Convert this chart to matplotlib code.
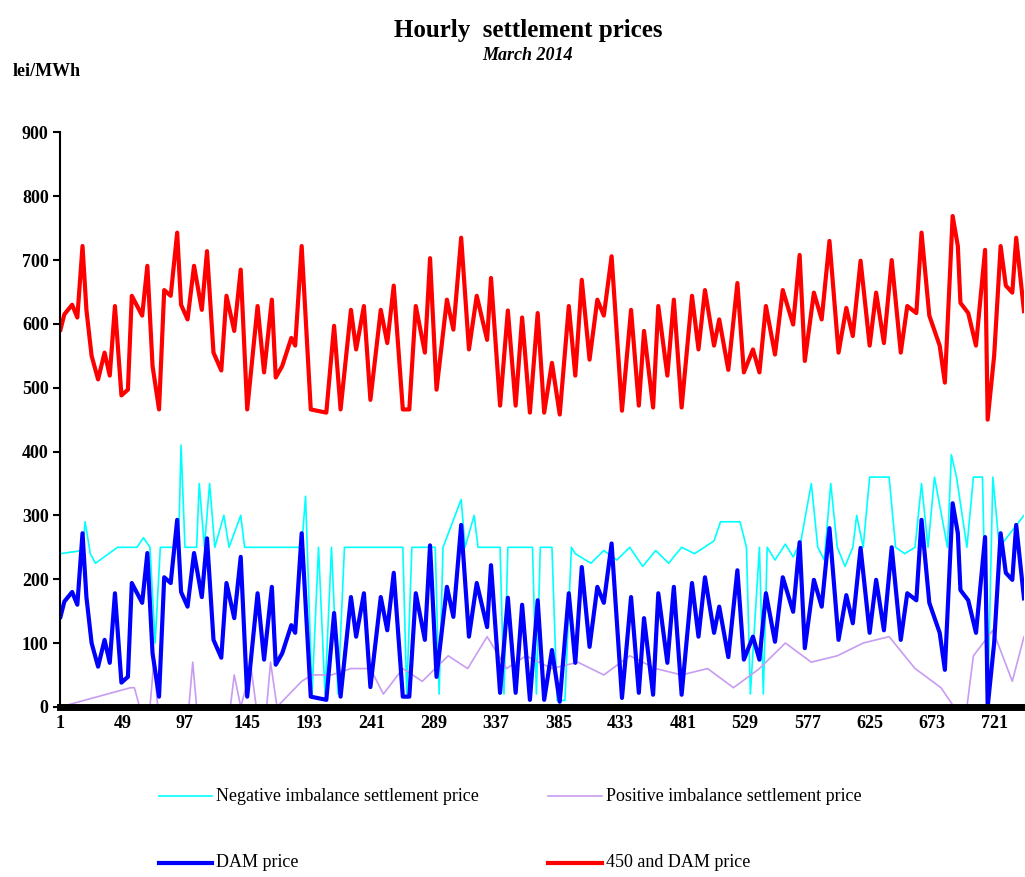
import matplotlib.pyplot as plt
from matplotlib.lines import Line2D

plt.rcParams['font.family'] = ['Liberation Serif', 'DejaVu Serif']

# DAM price (lei/MWh), read at irregular hours
dam_hours = [1, 4, 10, 14, 18, 21, 25, 30, 35, 39, 43, 48, 53, 56, 64, 68, 72, 77, 81, 86,
             91, 94, 99, 104, 110, 114, 119, 125, 129, 135, 140, 145, 153, 158, 164, 167, 172, 179, 182, 187,
             194, 206, 212, 217, 225, 229, 235, 240, 248, 253, 258, 265, 270, 275, 282, 286, 291, 299, 304, 310,
             316, 322, 330, 333, 340, 346, 352, 357, 363, 369, 374, 380, 386, 393, 398, 403, 409, 415, 420, 426,
             434, 441, 447, 451, 458, 462, 469, 474, 480, 488, 493, 498, 505, 509, 516, 523, 528, 535, 540, 545,
             552, 558, 566, 571, 575, 582, 588, 594, 601, 607, 612, 618, 625, 630, 636, 642, 649, 654, 661, 665,
             671, 679, 683, 689, 693, 695, 701, 707, 714, 716, 721, 726, 730, 735, 738, 744]
dam_values = [141, 165, 180, 160, 272, 172, 100, 63, 105, 69, 178, 38, 47, 194, 163, 241, 84, 16, 203, 194,
              293, 180, 157, 241, 172, 264, 105, 77, 194, 139, 235, 16, 178, 74, 188, 66, 84, 128, 116, 272,
              16, 11, 147, 16, 172, 110, 178, 31, 172, 120, 210, 16, 16, 178, 105, 253, 47, 188, 141, 285,
              110, 194, 125, 222, 22, 171, 22, 160, 11, 167, 11, 89, 8, 178, 69, 219, 94, 188, 163, 256,
              14, 172, 22, 139, 19, 178, 69, 188, 19, 194, 110, 203, 116, 157, 78, 214, 74, 110, 74, 178,
              102, 203, 149, 258, 92, 199, 157, 280, 105, 175, 131, 249, 116, 199, 120, 250, 105, 178, 167, 293,
              163, 116, 58, 319, 272, 183, 167, 116, 266, 0, 100, 272, 210, 199, 285, 170]
# "450 and DAM price" series
red_values = [v + 450 for v in dam_values]

# Negative imbalance settlement price
neg_hours = [1, 18, 20, 24, 28, 45, 60, 65, 70, 74, 78, 92, 94, 97, 106, 108, 112, 116, 120, 127,
             131, 140, 143, 187, 190, 195, 200, 205, 210, 215, 220, 230, 265, 268, 272, 290, 293, 296, 310, 313,
             320, 323, 340, 343, 346, 365, 368, 371, 380, 384, 390, 395, 398, 410, 420, 430, 440, 450, 460, 470,
             480, 490, 505, 510, 525, 530, 533, 540, 543, 546, 552, 560, 566, 572, 580, 585, 590, 595, 600, 606,
             612, 615, 620, 625, 640, 645, 652, 660, 665, 670, 675, 685, 688, 692, 700, 705, 712, 716, 720, 725,
             744]
neg_values = [240, 245, 290, 240, 225, 250, 250, 265, 250, 100, 250, 250, 410, 250, 250, 350, 250, 350, 250, 300,
              250, 300, 250, 250, 330, 20, 250, 20, 250, 20, 250, 250, 250, 20, 250, 250, 20, 250, 325, 250,
              300, 250, 250, 20, 250, 250, 20, 250, 250, 10, 10, 250, 240, 225, 245, 230, 250, 220, 245, 225,
              250, 240, 260, 290, 290, 250, 20, 250, 20, 250, 230, 255, 235, 260, 350, 250, 230, 350, 250, 220,
              250, 300, 250, 360, 360, 250, 240, 250, 350, 250, 360, 250, 395, 360, 250, 360, 360, 0, 360, 250,
              300]

# Positive imbalance settlement price
pos_hours = [1, 55, 58, 62, 70, 73, 76, 100, 103, 106, 132, 135, 140, 148, 152, 160, 163, 168, 187, 195,
             210, 225, 240, 250, 265, 280, 300, 315, 330, 345, 360, 380, 400, 420, 440, 460, 480, 500, 520, 540,
             560, 580, 600, 620, 640, 660, 680, 690, 700, 705, 720, 735, 744]
pos_values = [0, 30, 30, 0, 0, 70, 0, 0, 70, 0, 0, 50, 0, 60, 0, 0, 70, 0, 40, 50,
              50, 60, 60, 20, 60, 40, 80, 60, 110, 60, 80, 60, 70, 50, 80, 60, 50, 60, 30, 60,
              100, 70, 80, 100, 110, 60, 30, 0, 0, 80, 120, 40, 110]

fig = plt.figure(figsize=(10.25, 8.77), dpi=100)
ax = fig.add_axes([0.059, 0.194, 0.94, 0.655])

ax.plot(neg_hours, neg_values, color='#00ffff', lw=1.2)
ax.plot(pos_hours, pos_values, color='#c89cf0', lw=1.2)
ax.plot(dam_hours, dam_values, color='#0000ff', lw=3)
ax.plot(dam_hours, red_values, color='#ff0000', lw=3)

ax.set_xlim(1, 744)
ax.set_ylim(0, 900)
ax.set_xticks(range(1, 745, 48))
ax.set_yticks(range(0, 901, 100))
for lbl in ax.get_xticklabels() + ax.get_yticklabels():
    lbl.set_fontweight('bold')
    lbl.set_fontsize(13)
ax.tick_params(axis='y', direction='out', length=5, width=1.5)
ax.tick_params(axis='x', length=0, pad=6)
ax.spines['top'].set_visible(False)
ax.spines['right'].set_visible(False)
ax.spines['left'].set_linewidth(1.5)
ax.spines['bottom'].set_linewidth(5)

fig.text(0.515, 0.965, 'Hourly  settlement prices', ha='center', va='center',
         fontsize=18, fontweight='bold')
fig.text(0.515, 0.937, 'March 2014', ha='center', va='center',
         fontsize=13, fontweight='bold', style='italic')
fig.text(0.012, 0.918, 'lei/MWh', ha='left', va='center', fontsize=13, fontweight='bold')

legend_items = [
    (0.155, 0.092, '#00ffff', 1.2, 'Negative imbalance settlement price'),
    (0.535, 0.092, '#c89cf0', 1.2, 'Positive imbalance settlement price'),
    (0.155, 0.016, '#0000ff', 3, 'DAM price'),
    (0.535, 0.016, '#ff0000', 3, '450 and DAM price'),
]
for x, y, c, w, label in legend_items:
    fig.add_artist(Line2D([x, x + 0.052], [y, y], color=c, lw=w))
    fig.text(x + 0.056, y, label, ha='left', va='center', fontsize=13)

fig.savefig('out.png', dpi=100)
